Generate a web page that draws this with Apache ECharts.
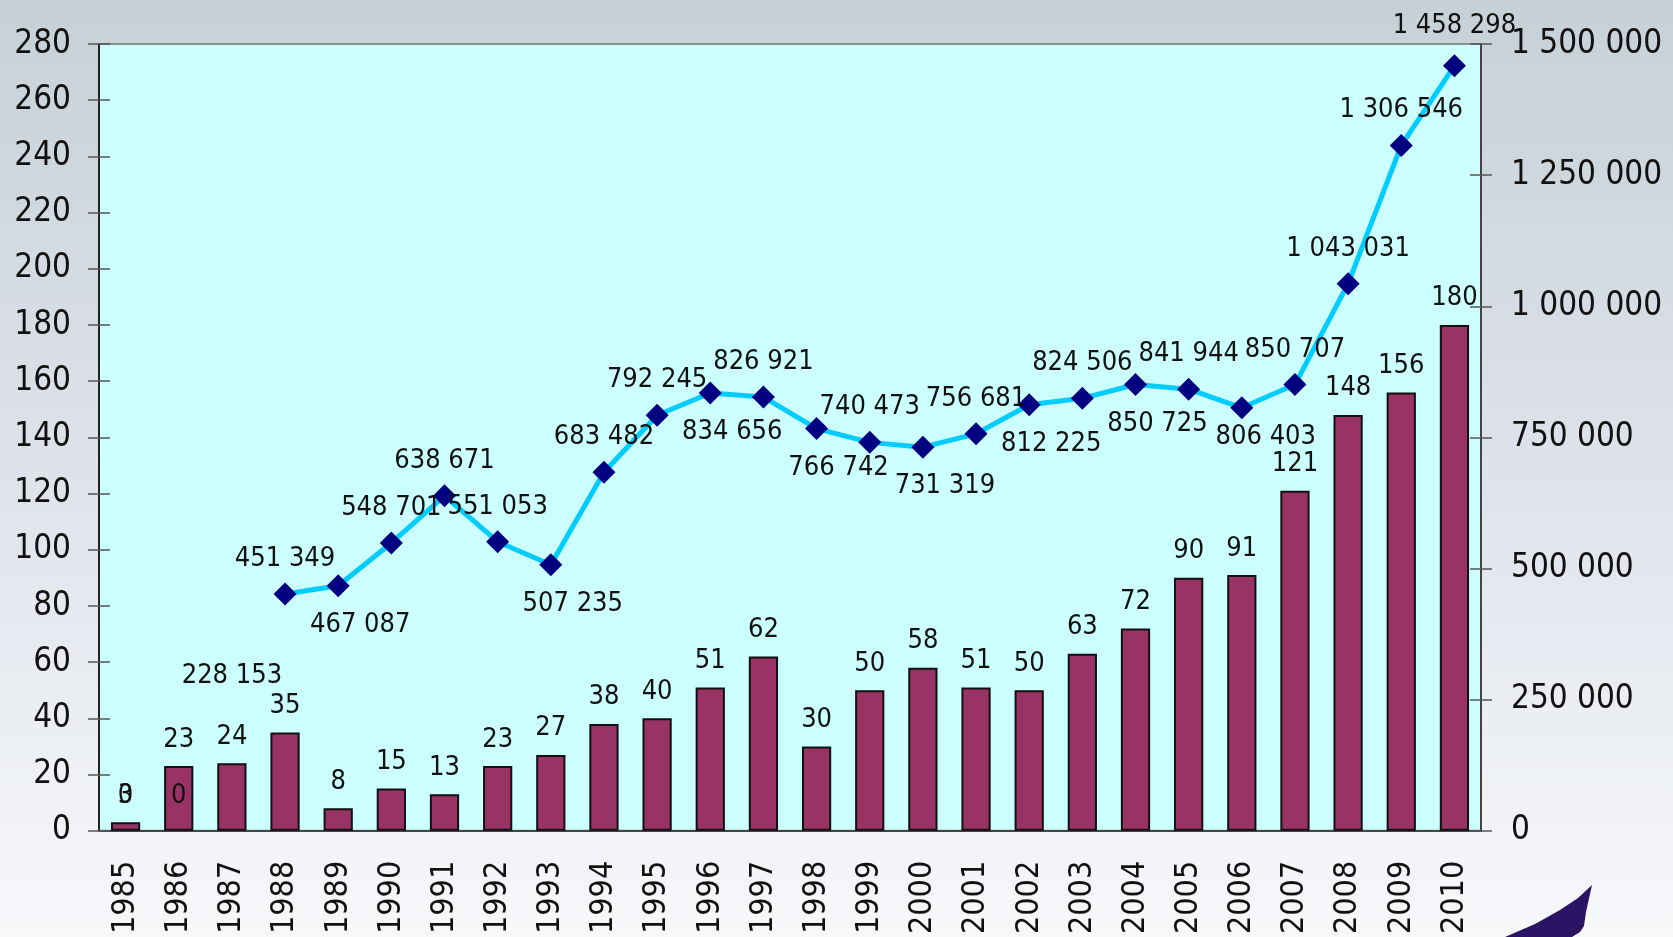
<!DOCTYPE html>
<html>
<head>
<meta charset="utf-8">
<script src="https://cdn.jsdelivr.net/npm/echarts@6/dist/echarts.min.js"></script>
<style>
  html, body { margin: 0; padding: 0; }
  #chart { width: 1673px; height: 937px; }
</style>
</head>
<body>
<div id="chart"></div>
<script>
var chart = echarts.init(document.getElementById('chart'));

// years on the x axis
var years = ['1985', '1986', '1987', '1988', '1989', '1990', '1991', '1992', '1993',
    '1994', '1995', '1996', '1997', '1998', '1999', '2000', '2001', '2002', '2003',
    '2004', '2005', '2006', '2007', '2008', '2009', '2010'];

// bars, left axis
var barValues = [3, 23, 24, 35, 8, 15, 13, 23, 27, 38, 40, 51, 62, 30, 50, 58, 51, 50, 63,
    72, 90, 91, 121, 148, 156, 180];

// line, right axis
var lineValues = [0, 0, 228153, 451349, 467087, 548701, 638671, 551053, 507235, 683482,
    792245, 834656, 826921, 766742, 740473, 731319, 756681, 812225, 824506, 850725,
    841944, 806403, 850707, 1043031, 1306546, 1458298];

var leftTicks = { min: 0, max: 280, interval: 20 };
var rightTicks = { min: 0, max: 1500000, interval: 250000 };

// first points of the line only have a label, no marker and no segment
var lineStart = 3;
// labels that sit below-right of their marker
var labelBelow = ['1989', '1993', '1996', '1998', '2000', '2002', '2004', '2006'];

var FONT = 'DejaVu Sans Condensed, DejaVu Sans, sans-serif';

function fmt(v) {
    return String(v).replace(/\B(?=(\d{3})+(?!\d))/g, ' ');
}

var lineData = lineValues.map(function (v, i) {
    if (i < lineStart) return null;
    var item = { value: v };
    if (labelBelow.indexOf(years[i]) >= 0) {
        item.label = { position: 'bottom', distance: 14, offset: [22, 0] };
        if (years[i] === '2006') item.label.offset = [24, -10];
    }
    if (years[i] === '2010') {
        item.label = { offset: [0, -5] };
    }
    return item;
});

var ghostData = lineValues.map(function (v, i) {
    return i < lineStart ? v : null;
});

var dataLabel = {
    show: true,
    position: 'top',
    distance: 12,
    fontSize: 27,
    color: '#111',
    fontFamily: FONT
};

var tickStyle = { color: '#555', width: 1.5 };

// axes that only add the inner half of the crossing tick marks
function innerY(pos, t) {
    return {
        type: 'value', position: pos, min: t.min, max: t.max, interval: t.interval,
        splitLine: { show: false }, axisLabel: { show: false },
        axisLine: { show: false },
        axisTick: { show: true, inside: true, length: 11, lineStyle: tickStyle }
    };
}

var option = {
    backgroundColor: {
        type: 'linear', x: 0, y: 0, x2: 0, y2: 1,
        colorStops: [
            { offset: 0, color: '#c6d1d7' },
            { offset: 0.5, color: '#dfe2ea' },
            { offset: 1, color: '#f6f8fa' }
        ]
    },
    animation: false,
    grid: {
        left: 99,
        right: 192,
        top: 44,
        bottom: 102,
        show: true,
        backgroundColor: '#ccffff',
        borderColor: '#8a8f90',
        borderWidth: 2
    },
    xAxis: [
        {
            type: 'category',
            data: years,
            axisLine: { lineStyle: { color: '#444', width: 2 } },
            axisTick: { length: 11, lineStyle: tickStyle },
            axisLabel: {
                rotate: 90,
                margin: 30,
                fontSize: 32,
                color: '#111',
                fontFamily: FONT
            }
        },
        {
            type: 'category',
            data: years,
            position: 'bottom',
            axisLine: { show: false },
            axisLabel: { show: false },
            axisTick: { inside: true, length: 11, lineStyle: tickStyle }
        }
    ],
    yAxis: [
        {
            type: 'value',
            min: leftTicks.min,
            max: leftTicks.max,
            interval: leftTicks.interval,
            splitLine: { show: false },
            axisLine: { show: true, lineStyle: { color: '#222', width: 2 } },
            axisTick: { show: true, length: 11, lineStyle: tickStyle },
            axisLabel: { margin: 28, fontSize: 33, color: '#111', fontFamily: FONT }
        },
        {
            type: 'value',
            position: 'right',
            min: rightTicks.min,
            max: rightTicks.max,
            interval: rightTicks.interval,
            splitLine: { show: false },
            axisLine: { show: true, lineStyle: { color: '#444', width: 2 } },
            axisTick: { show: true, length: 11, lineStyle: tickStyle },
            axisLabel: {
                margin: 30,
                fontSize: 33,
                color: '#111',
                fontFamily: FONT,
                formatter: fmt
            }
        },
        innerY('left', leftTicks),
        innerY('right', rightTicks)
    ],
    series: [
        {
            name: 'bars',
            type: 'bar',
            yAxisIndex: 0,
            data: barValues,
            barWidth: '55%',
            itemStyle: { color: '#993366', borderColor: '#111', borderWidth: 2 },
            label: Object.assign({}, dataLabel, { distance: 13 })
        },
        {
            name: 'line',
            type: 'line',
            yAxisIndex: 1,
            data: lineData,
            symbol: 'diamond',
            symbolSize: 23,
            lineStyle: { color: '#00ccff', width: 5 },
            itemStyle: { color: '#000080' },
            label: Object.assign({}, dataLabel, {
                distance: 10,
                formatter: function (p) { return fmt(p.value); }
            }),
            z: 3
        },
        {
            name: 'ghost',
            type: 'line',
            yAxisIndex: 1,
            data: ghostData,
            symbol: 'diamond',
            symbolSize: 23,
            showAllSymbol: true,
            lineStyle: { width: 0, color: 'transparent' },
            itemStyle: { color: 'transparent' },
            label: Object.assign({}, dataLabel, {
                distance: 10,
                formatter: function (p) { return fmt(p.value); }
            }),
            z: 4
        }
    ],
    graphic: [
        {
            type: 'polygon',
            shape: {
                points: [[1592, 885], [1578, 898], [1560, 910], [1535, 924], [1505, 937],
                    [1572, 937], [1580, 932], [1584, 926], [1586, 912]]
            },
            style: { fill: '#2a1463' }
        }
    ]
};

chart.setOption(option);

window.addEventListener('resize', function () {
    chart.resize();
});
</script>
</body>
</html>
